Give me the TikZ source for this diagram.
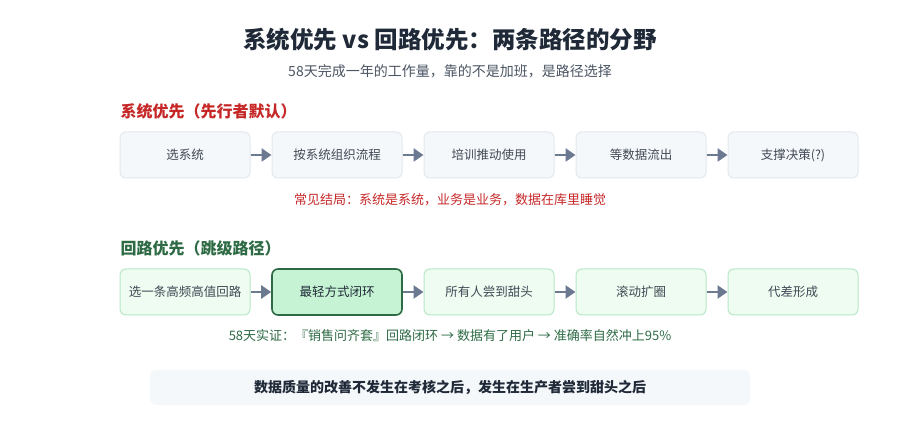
\documentclass[tikz,border=0pt]{standalone}
\usepackage{fontspec}
\setmainfont{Noto Sans CJK SC}
\usetikzlibrary{arrows.meta}
\definecolor{ink}{HTML}{1F2937}
\definecolor{sub}{HTML}{4B5563}
\definecolor{redt}{HTML}{C62828}
\definecolor{greent}{HTML}{2E6B45}
\definecolor{arr}{HTML}{6B7A90}
\definecolor{sfill}{HTML}{F5F8FB}
\definecolor{sline}{HTML}{E2E8F0}
\definecolor{gfill}{HTML}{EEFCF1}
\definecolor{gline}{HTML}{B7E8C6}
\definecolor{hfill}{HTML}{C6F3D4}
\begin{document}
\begin{tikzpicture}[x=1pt,y=-1pt,
  base/.style={line width=1pt,rounded corners=6pt,minimum width=130pt,minimum height=46pt,font=\fontsize{12.5}{14}\selectfont,text=ink!85},
  sbox/.style={base,draw=sline,fill=sfill},
  gbox/.style={base,draw=gline,fill=gfill},
  hbox/.style={base,draw=greent,fill=hfill,line width=1.6pt,text=ink},
  ar/.style={-{Triangle[length=10pt,width=13pt]},draw=arr,fill=arr,line width=2.5pt}]
\useasboundingbox (0,0) rectangle (900,430);
\fill[white] (0,0) rectangle (900,430);
\node[font=\fontsize{23.5}{26}\selectfont\bfseries,text=ink] (title) at (450,40) {系统优先 vs 回路优先：两条路径的分野};
\node[font=\fontsize{14}{16}\selectfont,text=sub] (subt) at (450,71) {58天完成一年的工作量，靠的不是加班，是路径选择};
\node[anchor=west,font=\fontsize{16}{18}\selectfont\bfseries,text=redt] (h1) at (117,111) {系统优先（先行者默认）};
\node[anchor=west,font=\fontsize{16}{18}\selectfont\bfseries,text=greent] (h2) at (117,248) {回路优先（跳级路径）};
\foreach \i/\t in {1/选系统,2/按系统组织流程,3/培训推动使用,4/等数据流出,5/支撑决策(?)}
  \node[sbox] (a\i) at (185+152*\i-152,155) {\t};
\node[gbox] (b1) at (185,292) {选一条高频高值回路};
\node[hbox] (b2) at (337,292) {最轻方式闭环};
\node[gbox] (b3) at (489,292) {所有人尝到甜头};
\node[gbox] (b4) at (641,292) {滚动扩圈};
\node[gbox] (b5) at (793,292) {代差形成};
\foreach \i/\j in {1/2,2/3,3/4,4/5}{
  \draw[ar] (a\i) -- (a\j);
  \draw[ar] (b\i) -- (b\j);}
\node[font=\fontsize{13}{15}\selectfont,text=redt] (n1) at (450,200) {常见结局：系统是系统，业务是业务，数据在库里睡觉};
\node[font=\fontsize{13}{15}\selectfont,text=greent] (n2) at (450,336) {58天实证：『销售问齐套』回路闭环 → 数据有了用户 → 准确率自然冲上95\%};
\node[fill=sfill,rounded corners=6pt,minimum width=600pt,minimum height=35pt,font=\fontsize{14}{16}\selectfont\bfseries,text=ink] (bar) at (450,387.5) {数据质量的改善不发生在考核之后，发生在生产者尝到甜头之后};
\end{tikzpicture}
\end{document}
